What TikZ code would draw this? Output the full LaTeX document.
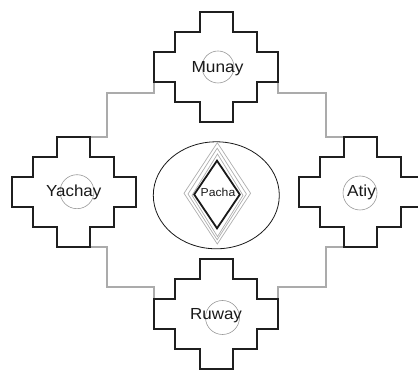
\documentclass[tikz,border=0pt]{standalone}
\usepackage{graphicx}
\usepackage{fontspec}
\setmainfont{Liberation Sans}
\usetikzlibrary{calc,shapes.geometric}
\tikzset{
  crossline/.style={line width=2pt, draw=black!88, line join=miter},
  conn/.style={line width=2pt, draw=black!33},
  lbl/.style={font=\fontsize{16}{19}\selectfont, text=black!90, inner sep=0pt, anchor=base},
  smalllbl/.style={font=\fontsize{11.5}{14}\selectfont, text=black!90, inner sep=0pt, anchor=base},
  ring/.style={draw=black!40, line width=0.6pt, circle, inner sep=0pt},
  graydia/.style={draw=black!32, line width=0.7pt},
  blackdia/.style={draw=black!90, line width=1.8pt, line join=miter},
}
\newcommand{\chakana}[3]{%
  \begin{scope}[shift={(#2,#3)}]
    \draw[crossline] (-16.5,-55) -- (16.5,-55) -- (16.5,-35) -- (40.8,-35) -- (40.8,-15) -- (62,-15)
      -- (62,15) -- (40.8,15) -- (40.8,35) -- (16.5,35) -- (16.5,55) -- (-16.5,55) -- (-16.5,35)
      -- (-40.8,35) -- (-40.8,15) -- (-62,15) -- (-62,-15) -- (-40.8,-15) -- (-40.8,-35) -- (-16.5,-35) -- cycle;
    \coordinate (#1-wn) at (-62,-15);
    \coordinate (#1-ws) at (-62,15);
    \coordinate (#1-en) at (62,-15);
    \coordinate (#1-es) at (62,15);
    \coordinate (#1-nw) at (-16.5,-55);
    \coordinate (#1-ne) at (16.5,-55);
    \coordinate (#1-sw) at (-16.5,55);
    \coordinate (#1-se) at (16.5,55);
  \end{scope}}
\begin{document}
\begin{tikzpicture}[x=1pt,y=-1pt]
\useasboundingbox (0,0) rectangle (418,371);
\clip (0,0) rectangle (418,371);
% crosses (first pass defines corner coordinates)
\chakana{M}{216}{67}
\chakana{Y}{73.5}{192}
\chakana{A}{360.5}{192}
\chakana{R}{216}{314}
% connectors
\draw[conn] (M-ws) -- ++(0,11.5) -| ($(Y-ne)+(17,0)$) -- (Y-ne);
\draw[conn] (M-es) -- ++(0,11.5) -| ($(A-nw)+(-18,0)$) -- (A-nw);
\draw[conn] (Y-se) -- ++(17,0) |- ($(R-wn)+(0,-12)$) -- (R-wn);
\draw[conn] (A-sw) -- ++(-18,0) |- ($(R-en)+(0,-12)$) -- (R-en);
% redraw crosses on top
\chakana{M}{216}{67}
\chakana{Y}{73.5}{192}
\chakana{A}{360.5}{192}
\chakana{R}{216}{314}
% centre
\node[draw=black!90, line width=0.8pt, ellipse, minimum width=126pt, minimum height=107pt, inner sep=0pt] (pachaell) at (216.3,195.3) {};
\draw[graydia] (217.3,142.7) -- (250.6,193.3) -- (217.3,244) -- (184,193.3) -- cycle;
\draw[graydia] (217.2,148.2) -- (246.4,194) -- (217.2,239.8) -- (188,194) -- cycle;
\draw[graydia] (217.5,154) -- (243,195.3) -- (217.5,236.6) -- (192,195.3) -- cycle;
\draw[blackdia] (217,160.7) -- (239.8,194.5) -- (217,228.3) -- (194.2,194.5) -- cycle;
\node[smalllbl] (pacha) at (218,196.7) {\scalebox{1.06}[1]{Pacha}};
% labels with rings
\node[ring, minimum size=32pt] (munayring) at (218,67) {};
\node[lbl] (munay) at (217.5,72.3) {\scalebox{1.08}[1]{Munay}};
\node[ring, minimum size=34pt] (yachayring) at (77,191.7) {};
\node[lbl] (yachay) at (73.7,196.8) {\scalebox{1.06}[1]{Yachay}};
\node[ring, minimum size=34pt] (atiyring) at (360,193) {};
\node[lbl] (atiy) at (361.5,196.5) {\scalebox{1.08}[1]{Atiy}};
\node[ring, minimum size=34pt] (ruwayring) at (222.5,317.5) {};
\node[lbl] (ruway) at (216,319.8) {\scalebox{1.06}[1]{Ruway}};
\end{tikzpicture}
\end{document}
